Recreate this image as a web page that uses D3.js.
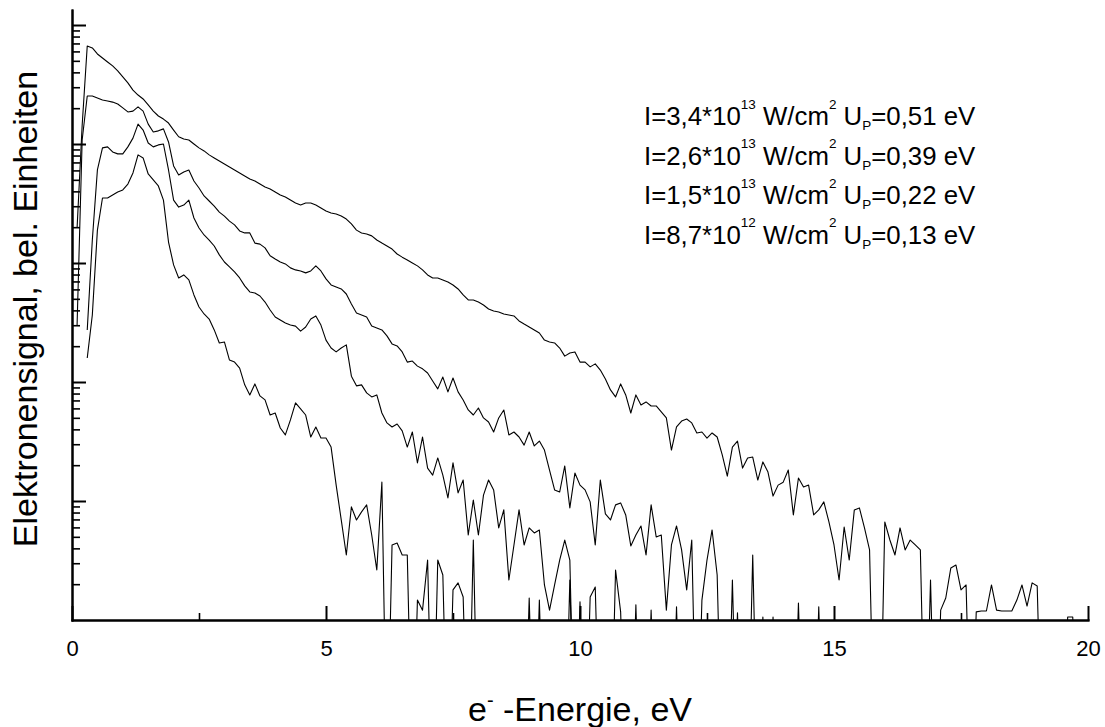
<!DOCTYPE html>
<html><head><meta charset="utf-8">
<script src="https://cdn.jsdelivr.net/npm/d3@7"></script>
<style>body{margin:0;background:#fff}svg{display:block;background:#fff}text{font-family:"Liberation Sans",Arial,sans-serif;white-space:pre}</style>
</head><body><svg id="chart" width="1105" height="727"></svg>
<script>
// Electron energy (eV), shared sampling grid
const energy=[0.1,0.2,0.3,0.4,0.5,0.6,0.7,0.8,0.9,1.0,
1.1,1.2,1.3,1.4,1.5,1.6,1.7,1.8,1.9,2.0,
2.1,2.2,2.3,2.4,2.5,2.6,2.7,2.8,2.9,3.0,
3.1,3.2,3.3,3.4,3.5,3.6,3.7,3.8,3.9,4.0,
4.1,4.2,4.3,4.4,4.5,4.6,4.7,4.8,4.9,5.0,
5.1,5.2,5.3,5.4,5.5,5.6,5.7,5.8,5.9,6.0,
6.1,6.2,6.3,6.4,6.5,6.6,6.7,6.8,6.9,7.0,
7.1,7.2,7.3,7.4,7.5,7.6,7.7,7.8,7.9,8.0,
8.1,8.2,8.3,8.4,8.5,8.6,8.7,8.8,8.9,9.0,
9.1,9.2,9.3,9.4,9.5,9.6,9.7,9.8,9.9,10.0,
10.1,10.2,10.3,10.4,10.5,10.6,10.7,10.8,10.9,11.0,
11.1,11.2,11.3,11.4,11.5,11.6,11.7,11.8,11.9,12.0,
12.1,12.2,12.3,12.4,12.5,12.6,12.7,12.8,12.9,13.0,
13.1,13.2,13.3,13.4,13.5,13.6,13.7,13.8,13.9,14.0,
14.1,14.2,14.3,14.4,14.5,14.6,14.7,14.8,14.9,15.0,
15.1,15.2,15.3,15.4,15.5,15.6,15.7,15.8,15.9,16.0,
16.1,16.2,16.3,16.4,16.5,16.6,16.7,16.8,16.9,17.0,
17.1,17.2,17.3,17.4,17.5,17.6,17.7,17.8,17.9,18.0,
18.1,18.2,18.3,18.4,18.5,18.6,18.7,18.8,18.9,19.0,
19.1,19.2,19.3,19.4,19.5,19.6,19.7,19.8,19.9,20.0];

// Electron signal (arb. units); 0 = no counts, null = not measured
const sig1=[1970,14400,66700,64200,57100,52800,48900,45300,41100,36600,
32600,28400,25800,23900,21300,18900,17200,16200,15000,13100,
11500,11000,10800,10000,9280,8750,8100,7640,7210,6800,
6420,6050,5710,5390,5080,4890,4610,4350,4190,3950,
3730,3590,3380,3190,3070,3190,3190,3070,2900,2740,
2630,2580,2480,2340,2130,1890,1790,1750,1690,1560,
1470,1390,1310,1190,1120,1060,1000,946,875,794,
749,749,721,693,654,605,539,489,489,470,
444,411,395,388,373,366,359,326,307,290,
274,258,225,217,213,193,165,175,179,147,
147,134,142,126,106,85.8,74.9,96.4,77.9,54.9,
77.9,64.2,68.0,62.9,62.9,56.0,49.9,26.8,41.9,47.0,
48.9,45.3,37.3,38.0,33.8,37.3,34.5,24.4,16.2,28.4,
31.9,18.9,23.0,23.4,15.0,21.3,17.5,11.0,13.6,14.4,
18.2,7.64,15.6,13.1,13.6,7.64,8.42,9.83,6.67,4.27,
2.17,6.05,3.19,8.42,8.75,5.94,3.88,0,0,6.67,
4.70,3.52,5.94,3.88,4.70,4.27,3.88,0,2.17,0,
1.21,1.53,2.74,2.90,1.79,1.97,0,1.17,1.19,1.19,
1.97,1.21,1.19,1.19,1.19,1.47,1.97,1.31,2.05,1.93,
0,0,0,0,0,1.06,1.06,0];

const sig2=[301,10800,25300,25300,24400,23400,23000,22500,21700,20100,
18600,18900,20500,18900,14700,12600,12900,13400,10400,6540,
5490,5820,6050,4890,4270,3660,3320,3010,2680,2480,
2250,2090,1860,1790,1790,1470,1440,1340,1150,1080,
1020,983,910,875,858,826,858,946,858,735,
654,629,605,549,453,380,366,352,295,284,
274,244,209,201,179,147,150,136,129,119,
102,87.5,110,82.6,108,82.6,70.7,58.2,52.8,60.5,
49.9,46.1,38.0,49.9,58.2,35.9,38.0,34.5,29.5,38.0,
29.0,31.9,26.8,18.2,12.4,11.9,19.7,8.75,17.2,13.6,
12.4,9.83,4.27,15.0,7.79,6.93,9.28,9.64,7.64,4.19,
5.18,6.17,3.52,9.28,4.99,5.18,1.21,4.27,6.17,3.88,
1.79,4.70,0,1.47,3.19,5.71,2.39,0,0,2.17,
0,0,0,3.52,0,1.06,0,0,0,0,
0,0,1.39,0,0,0,1.29,0];

const sig3=[null,null,274,1560,6050,9280,9460,8580,8260,8260,
9460,11200,14700,13100,10200,9460,9830,10000,6050,3380,
2950,3070,3380,2390,1970,1720,1560,1390,1170,1020,
928,842,749,642,571,560,528,470,403,352,
332,313,301,295,268,290,338,359,301,225,
193,179,193,205,112,92.8,94.6,81.0,74.9,77.9,
54.9,45.3,41.9,44.4,38.8,28.4,38.0,20.9,34.5,18.9,
16.5,23.0,16.5,10.6,20.9,11.7,15.0,5.18,10.2,5.18,
11.2,15.0,12.4,5.94,8.42,2.17,4.27,8.42,4.27,5.94,
5.39,5.71,1.97,1.21,1.97,3.19,4.70,3.19,0,1.42,
0,1.56,1.89,0,0,0,2.63,1.17,0,0,
1.34,0,0,1.21,0,0,0,0,1.29,0,
0,0,0,0,0,0,0,0,0,0,
1.15,0,0,0,0,0,0,1.06,0];

const sig4=[null,null,159,366,1890,3520,3520,3730,3950,4110,
4610,5710,8100,7640,5600,4990,4440,3380,1500,964,
749,794,721,539,427,373,338,274,213,217,
153,147,131,94.6,77.9,96.4,76.4,70.7,52.8,54.9,
41.1,35.9,48.0,66.7,59.4,52.8,34.5,41.9,33.8,33.8,
28.4,13.6,6.93,3.52,8.92,6.93,8.10,9.28,5.18,2.63,
14.4,0,4.27,4.44,3.52,3.52,0,1.47,1.21,3.19,
0,3.19,2.39,0,1.79,2.05,1.56,0,4.70,0,
0,0,0,0,0,0,0,0,0,1.53,
0,1.47,0,0,0,0,0,2.17,0];

const xTicksMajor=[0,5,10,15,20];
const xTicksMinor=[2.5,7.5,12.5,17.5];
const yTicksMajor=[10,100,1000,10000,100000];

// legend texts: [text, kind] kind n=normal, sup, sub
const legendLines=[
 [["I=3,4*10","n"],["13","sup"],[" W/cm","n"],["2","sup"],[" U","n"],["P","sub"],["=0,51 eV","n"]],
 [["I=2,6*10","n"],["13","sup"],[" W/cm","n"],["2","sup"],[" U","n"],["P","sub"],["=0,39 eV","n"]],
 [["I=1,5*10","n"],["13","sup"],[" W/cm","n"],["2","sup"],[" U","n"],["P","sub"],["=0,22 eV","n"]],
 [["I=8,7*10","n"],["12","sup"],[" W/cm","n"],["2","sup"],[" U","n"],["P","sub"],["=0,13 eV","n"]]
];
const xTitle=[["e","n"],["-","sup"],[" -Energie, eV","n"]];
const yTitle="Elektronensignal, bel. Einheiten";

const svg=d3.select("#chart");
const x=d3.scaleLinear().domain([0,20]).range([72,1088]);
const y=d3.scaleLog().domain([1,1.337e5]).range([620,10]);
const floorV=0.05;

svg.append("clipPath").attr("id","clip").append("rect")
  .attr("x",72).attr("y",10).attr("width",1016).attr("height",610);
const gl=svg.append("g").attr("clip-path","url(#clip)");
const line=d3.line().defined(d=>d[1]!==null)
  .x(d=>x(d[0])).y(d=>y(Math.max(d[1],floorV)));
[sig1,sig2,sig3,sig4].forEach(s=>{
  gl.append("path").datum(s.map((v,i)=>[energy[i],v]))
    .attr("d",line).attr("fill","none").attr("stroke","#000")
    .attr("stroke-width",1.1).attr("stroke-linejoin","round");
});

function styleAxis(g,w){
  g.selectAll(".domain").attr("stroke","#000").attr("stroke-width",2).attr("stroke-linecap","square");
  g.selectAll(".tick line").attr("stroke","#000").attr("stroke-width",w);
}
// x axis
const gxm=svg.append("g").attr("transform","translate(0,620)")
  .call(d3.axisBottom(x).tickValues(xTicksMinor).tickSize(-7).tickSizeOuter(0).tickFormat(""));
styleAxis(gxm,1.6);
const gx=svg.append("g").attr("transform","translate(0,620)")
  .call(d3.axisBottom(x).tickValues(xTicksMajor).tickSize(-14).tickSizeOuter(0).tickPadding(20).tickFormat(d3.format("d")));
styleAxis(gx,2);
gx.selectAll(".tick text").attr("font-size",22).attr("fill","#000")
  .attr("font-family","'Liberation Sans',Arial,sans-serif");

// y axis
const minorY=y.ticks().filter(v=>Math.abs(Math.log10(v)-Math.round(Math.log10(v)))>1e-6);
const gym=svg.append("g").attr("transform","translate(72,0)")
  .call(d3.axisRight(y).tickValues(minorY).tickSize(8).tickSizeOuter(0).tickFormat(""));
styleAxis(gym,1.6);
const gy=svg.append("g").attr("transform","translate(72,0)")
  .call(d3.axisRight(y).tickValues(yTicksMajor).tickSize(14).tickSizeOuter(0).tickFormat(""));
styleAxis(gy,2);

// rich text helper
function rich(t,parts,size,supSize,supDy,subDy){
  let shift=0;
  parts.forEach(([s,k])=>{
    const target=k==="sup"?supDy:k==="sub"?subDy:0;
    t.append("tspan").attr("dy",target-shift).attr("font-size",k==="n"?size:supSize).text(s);
    shift=target;
  });
}
const legendY=[125,164.5,204,243.5];
legendLines.forEach((parts,i)=>{
  const t=svg.append("text").attr("x",644).attr("y",legendY[i]).attr("fill","#000");
  rich(t,parts,25.8,13.5,-16.5,5);
});

const tx=svg.append("text").attr("x",580).attr("y",721).attr("text-anchor","middle").attr("fill","#000");
rich(tx,xTitle,34,20,-14,0);

svg.append("text").attr("transform","translate(37,309) rotate(-90)")
  .attr("text-anchor","middle").attr("font-size",34).attr("fill","#000").text(yTitle);
</script></body></html>
